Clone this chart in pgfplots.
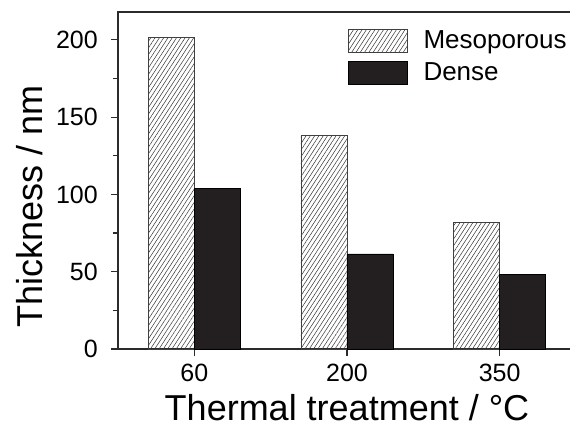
\documentclass[border=0pt]{standalone}
\usepackage{fontspec}
\setmainfont{Liberation Sans}
\usepackage{pgfplots}
\pgfplotsset{compat=1.18}
\usetikzlibrary{patterns.meta}

\definecolor{barblack}{HTML}{231F20}
\definecolor{axgray}{HTML}{2B2B2B}

\pgfplotsset{
  boxleg/.style={legend image code/.code={\draw[##1] (0pt,-11.5pt) rectangle (59pt,11.5pt);}},
}

\begin{document}
\begin{tikzpicture}
\begin{axis}[
  scale only axis,
  width=458pt, height=337pt,
  xmin=-0.5, xmax=2.5,
  ymin=0, ymax=218,
  ybar=0pt, bar width=46pt,
  xtick=data, xticklabels={60,200,350},
  ytick={0,50,100,150,200},
  minor y tick num=1,
  tick pos=left, tick align=outside,
  major tick length=7pt, minor tick length=5pt,
  axis line style={line width=1.2pt, color=axgray},
  every tick/.style={line width=1.2pt, color=axgray},
  /pgf/number format/assume math mode=true,
  ticklabel style={font=\fontsize{25}{30}\selectfont, inner sep=0pt},
  xticklabel style={anchor=base, yshift=-25pt},
  yticklabel style={anchor=east, xshift=-13pt},
  xlabel={Thermal treatment / °C},
  ylabel={Thickness / nm},
  label style={font=\fontsize{36}{43}\selectfont, inner sep=0pt},
  xlabel style={at={(axis description cs:0.5,-0.2107)}, anchor=base},
  ylabel style={at={(axis description cs:-0.1648,0.4243)}, anchor=base},
  legend style={at={(axis description cs:0.502,0.9496)}, anchor=north west,
    draw=none, fill=none, inner sep=0pt, outer sep=0pt,
    font=\fontsize{26}{31}\selectfont, column sep=16pt, row sep=8pt,
    nodes={inner sep=0pt}},
  legend cell align=left,
]
\addplot[boxleg, draw=black!75, line width=0.6pt,
  pattern={Lines[angle=57,distance=3.6pt,line width=0.5pt]}, pattern color=black!80]
  coordinates {(0,201.4) (1,138.4) (2,82.0)};
\addplot[boxleg, draw=black, line width=0.6pt, fill=barblack]
  coordinates {(0,104.0) (1,61.5) (2,48.3)};
\legend{Mesoporous, Dense}
\coordinate (bbsw) at (axis description cs:-0.2576,-0.2166);
\coordinate (bbne) at (axis description cs:0.9869,1.0356);
\end{axis}
\pgfresetboundingbox
\path[use as bounding box] (bbsw) rectangle (bbne);
\end{tikzpicture}
\end{document}
